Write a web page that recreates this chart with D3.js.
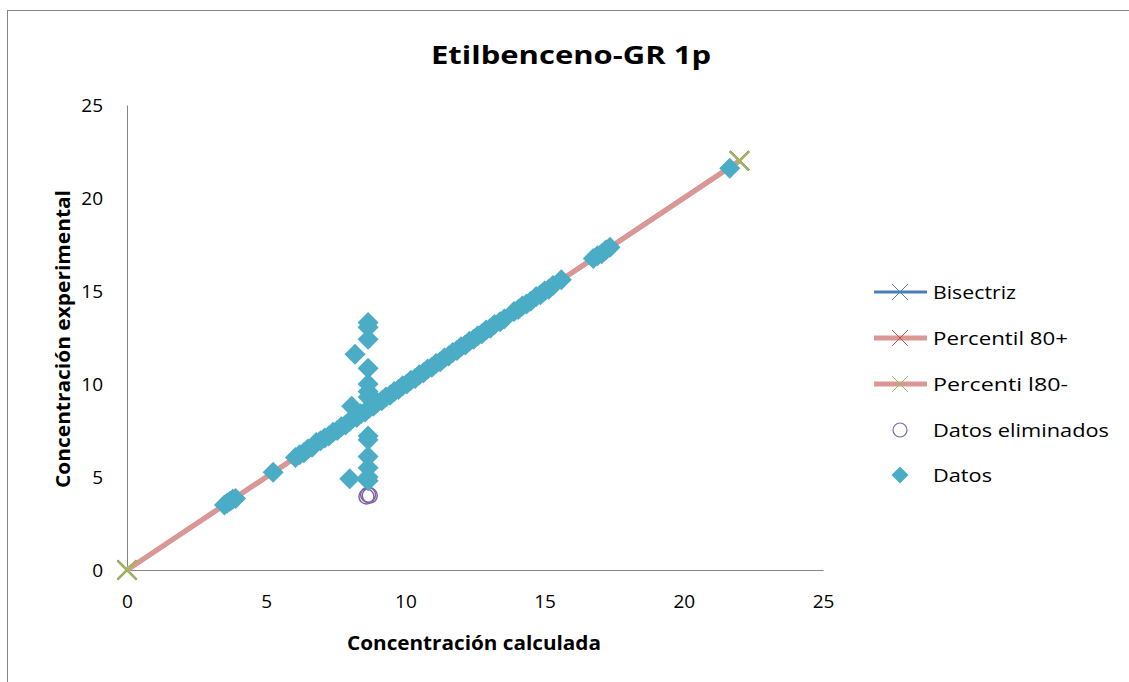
<!DOCTYPE html>
<html><head><meta charset="utf-8">
<script src="https://cdn.jsdelivr.net/npm/d3@7"></script>
<style>body{margin:0;background:#fff}svg{display:block;font-family:"Open Sans",Lato,sans-serif;font-variant-ligatures:none}</style>
</head><body><svg id="c" width="1129" height="682"></svg>
<script>
const title = "Etilbenceno-GR 1p";
const xTitle = "Concentración calculada";
const yTitle = "Concentración experimental";
const ticks = [0, 5, 10, 15, 20, 25];
const seriesNames = ["Bisectriz", "Percentil 80+", "Percenti l80-", "Datos eliminados", "Datos"];
const lineX = [0, 22];
const bisectrizY = [0, 22];
const p80plusY = [0, 22];
const p80minusY = [0, 22];
const elimX = [8.66, 8.6, 8.72];
const elimY = [4.05, 3.95, 4.0];
const datosX = [3.5,3.6,3.7,3.8,3.9,5.25,
 6.05,6.2,6.35,6.5,6.65,6.8,6.95,7.1,7.25,7.4,7.55,7.7,7.85,8.0,8.1,8.25,8.4,8.55,8.7,8.85,9.0,9.15,9.3,9.45,9.6,9.75,9.9,10.05,10.2,10.35,10.5,10.65,10.8,10.95,11.1,11.25,11.4,11.55,11.7,11.85,12.0,12.15,12.3,12.45,12.6,12.75,12.9,13.05,13.2,13.4,13.55,
 13.9,14.05,14.2,14.35,14.5,14.7,14.85,15.0,15.15,15.3,15.6,
 16.75,16.9,17.05,17.2,17.35,21.65,
 8.66,8.66,8.66,8.66,8.66,8.66,8.66,8.66,8.66,8.66,8.66,8.66,8.66,8.19,8.07,8.0];
const datosY = [3.5,3.6,3.7,3.8,3.85,5.25,
 6.05,6.2,6.3,6.5,6.6,6.85,6.95,7.1,7.2,7.4,7.5,7.7,7.8,8.0,8.15,8.2,8.4,8.5,8.7,8.8,9.0,9.1,9.3,9.4,9.6,9.7,9.9,10.0,10.2,10.3,10.5,10.6,10.8,10.9,11.1,11.2,11.4,11.5,11.7,11.8,12.0,12.1,12.3,12.4,12.6,12.7,12.9,13.0,13.2,13.35,13.5,
 13.9,14.0,14.2,14.3,14.45,14.7,14.8,15.0,15.1,15.3,15.6,
 16.75,16.9,17.0,17.2,17.35,21.6,
 13.3,13.05,12.4,10.85,10.0,9.6,9.3,7.0,6.1,5.5,5.0,4.8,7.2,11.6,8.8,4.9];

const svg = d3.select("#c");
const x = d3.scaleLinear().domain([0, 25]).range([127, 823]);
const y = d3.scaleLinear().domain([0, 25]).range([570, 105]);

// chart border
svg.append("rect").attr("x", 7.5).attr("y", 10.5).attr("width", 1200).attr("height", 800)
  .attr("fill", "none").attr("stroke", "#868686").attr("stroke-width", 1);

// axes
const xAxis = svg.append("g").attr("transform", `translate(0,${y(0)})`)
  .call(d3.axisBottom(x).tickValues(ticks).tickSize(0).tickPadding(25));
const yAxis = svg.append("g").attr("transform", `translate(${x(0)},0)`)
  .call(d3.axisLeft(y).tickValues(ticks).tickSize(0).tickPadding(24));
[xAxis, yAxis].forEach(a => {
  a.select(".domain").attr("stroke", "#868686").attr("stroke-width", 1);
  a.selectAll("text").attr("font-size", 19).attr("fill", "#000").attr("font-family", "'Open Sans', sans-serif");
});

// titles
svg.append("text").attr("x", 571).attr("y", 64).attr("text-anchor", "middle")
  .attr("font-size", 25).attr("font-weight", "bold")
  .attr("textLength", 280).attr("lengthAdjust", "spacingAndGlyphs").text(title);
svg.append("text").attr("x", 474).attr("y", 650).attr("text-anchor", "middle")
  .attr("font-size", 19).attr("font-weight", "bold")
  .attr("textLength", 254).attr("lengthAdjust", "spacingAndGlyphs").text(xTitle);
svg.append("text").attr("transform", `translate(70,339) rotate(-90)`).attr("text-anchor", "middle")
  .attr("font-size", 19).attr("font-weight", "bold")
  .attr("textLength", 298).attr("lengthAdjust", "spacingAndGlyphs").text(yTitle);

const line = d3.line().x(d => x(d[0])).y(d => y(d[1]));
const xMark = (g, cx, cy, s, color, w) => {
  g.append("path").attr("d", `M${cx - s},${cy - s}L${cx + s},${cy + s}M${cx - s},${cy + s}L${cx + s},${cy - s}`)
    .attr("stroke", color).attr("stroke-width", w).attr("fill", "none");
};
const plot = svg.append("g");
const lines = [
  {ys: bisectrizY, color: "#4a7ebb", w: 3, mk: "#4a7ebb"},
  {ys: p80plusY, color: "#d99795", w: 5, mk: "#c0504d"},
  {ys: p80minusY, color: "#d99795", w: 5, mk: "#9bbb59"}
];
lines.forEach(s => {
  const pts = lineX.map((v, i) => [v, s.ys[i]]);
  plot.append("path").attr("d", line(pts)).attr("stroke", s.color).attr("stroke-width", s.w).attr("fill", "none");
  pts.forEach(p => xMark(plot, x(p[0]), y(p[1]), 9.5, s.mk, 2));
});

// eliminated
plot.selectAll("circle.el").data(elimX.map((v, i) => [v, elimY[i]])).join("circle")
  .attr("cx", d => x(d[0])).attr("cy", d => y(d[1])).attr("r", 7.5)
  .attr("fill", "none").attr("stroke", "#8064a2").attr("stroke-width", 1.5);

// datos
const diamond = r => `M0,${-r}L${r},0L0,${r}L${-r},0Z`;
plot.selectAll("path.dt").data(datosX.map((v, i) => [v, datosY[i]])).join("path")
  .attr("class", "dt").attr("d", diamond(10.5))
  .attr("transform", d => `translate(${x(d[0])},${y(d[1])})`)
  .attr("fill", "#4bacc6");

// legend
const leg = svg.append("g");
const ly = [292, 338, 384, 430, 475];
const lw = [83, 135, 135, 176, 59];
seriesNames.forEach((n, i) => {
  const yy = ly[i];
  if (i < 3) {
    leg.append("line").attr("x1", 874).attr("x2", 927).attr("y1", yy).attr("y2", yy)
      .attr("stroke", lines[i].color).attr("stroke-width", lines[i].w);
    xMark(leg, 900, yy, 8, lines[i].mk, 1);
  } else if (i === 3) {
    leg.append("circle").attr("cx", 900).attr("cy", yy).attr("r", 7)
      .attr("fill", "none").attr("stroke", "#8064a2").attr("stroke-width", 1.2);
  } else {
    leg.append("path").attr("d", diamond(8.5)).attr("transform", `translate(900,${yy})`).attr("fill", "#4bacc6");
  }
  leg.append("text").attr("x", 933).attr("y", yy + 7).attr("font-size", 19)
    .attr("textLength", lw[i]).attr("lengthAdjust", "spacingAndGlyphs").text(n);
});
</script></body></html>
